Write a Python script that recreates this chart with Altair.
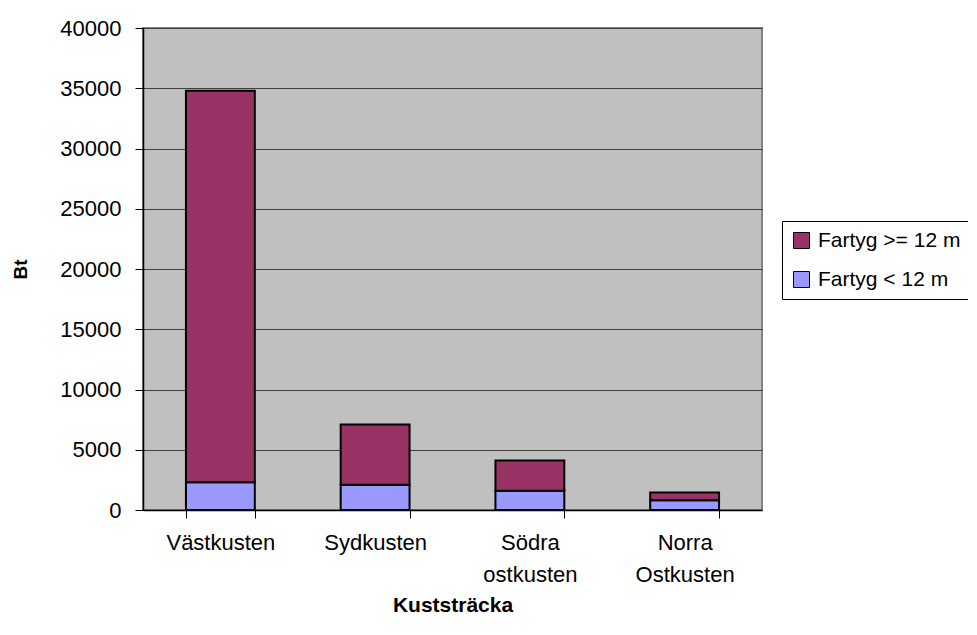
import altair as alt
import pandas as pd

categories = ["Västkusten", "Sydkusten", "Södra ostkusten", "Norra Ostkusten"]
series_names = ["Fartyg >= 12 m", "Fartyg < 12 m"]
small_vessels = [2300, 2100, 1600, 800]      # Fartyg < 12 m
large_vessels = [32500, 5000, 2500, 650]     # Fartyg >= 12 m
y_ticks = [0, 5000, 10000, 15000, 20000, 25000, 30000, 35000, 40000]
colors = ["#993366", "#9999FF"]

rows = []
for c, s, l in zip(categories, small_vessels, large_vessels):
    rows.append({"Kuststräcka": c, "Serie": series_names[1], "Bt": s, "ord": 0})
    rows.append({"Kuststräcka": c, "Serie": series_names[0], "Bt": l, "ord": 1})
df = pd.DataFrame(rows)

FONT = "Liberation Sans"
FS = 22

chart = alt.Chart(df).mark_bar(stroke="black", strokeWidth=2).encode(
    x=alt.X("Kuststräcka:N", sort=categories,
            scale=alt.Scale(paddingInner=0.555, paddingOuter=0.2775),
            axis=alt.Axis(labelAngle=0, labelExpr="split(datum.label, ' ')",
                          labelFontSize=FS, labelFont=FONT, labelColor="black",
                          labelLineHeight=32, labelPadding=14, tickBand="extent",
                          tickSize=8, tickColor="black", domainColor="black",
                          domainWidth=1.5, title="Kuststräcka", titleFont=FONT,
                          titleFontSize=21, titleFontWeight="bold", titleColor="black",
                          titlePadding=9)),
    y=alt.Y("Bt:Q", stack="zero",
            scale=alt.Scale(domain=[0, 40000], nice=False),
            axis=alt.Axis(values=y_ticks, format="d", labelFontSize=FS, labelFont=FONT,
                          labelColor="black", labelPadding=14, tickSize=8,
                          tickColor="black", domainColor="black", domainWidth=1.5,
                          gridColor="#404040", gridWidth=1,
                          title="Bt", titleFont=FONT, titleFontSize=19,
                          titleFontWeight="bold", titleColor="black", titlePadding=29)),
    color=alt.Color("Serie:N", scale=alt.Scale(domain=series_names, range=colors),
                    legend=alt.Legend(title=None, orient="none", legendX=639, legendY=193,
                                      labelFontSize=21, labelFont=FONT, labelColor="black",
                                      symbolType="square", symbolSize=256,
                                      symbolStrokeColor="black", symbolStrokeWidth=1,
                                      rowPadding=17, strokeColor="black", padding=9,
                                      labelOffset=6)),
    order=alt.Order("ord:Q", sort="ascending"),
).properties(
    width=619, height=482,
    autosize=alt.AutoSizeParams(type="none"),
    padding={"left": 135, "top": 20, "right": 206, "bottom": 108},
).configure(
    background="white"
).configure_view(
    fill="#C0C0C0", stroke="#808080", strokeWidth=2
)

chart.save("out.html", embed_options={"renderer": "svg", "actions": False})
